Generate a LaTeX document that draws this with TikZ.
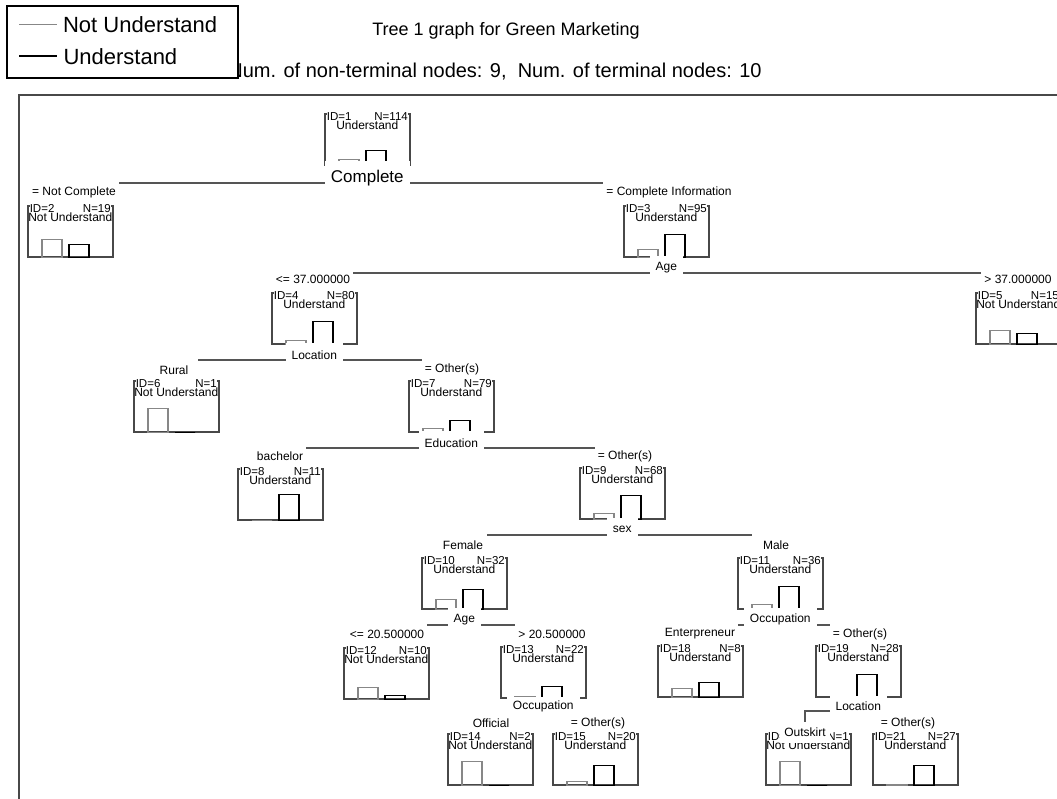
\documentclass[tikz,border=0pt]{standalone}
\usepackage{fontspec}
\setmainfont{Liberation Sans}
\usepackage{xcolor}
\usepackage{tikz}
\usetikzlibrary{positioning, backgrounds}
\definecolor{treeDark}{RGB}{72,72,72}
\definecolor{treeGray}{RGB}{135,135,135}
\definecolor{treeLine}{RGB}{85,85,85}
\newcommand{\fsz}[1]{\fontsize{#1}{#1}\selectfont}
% one tree node: name, left, top, id, n, class, gray bar, black bar
\newcommand{\treenode}[8]{%
  \node[treebox, anchor=north west] (#1) at (#2,#3) {};
  \draw[notbar] ([xshift=15pt]#1.south west) rectangle ++(20,-#7);
  \draw[yesbar] ([xshift=42pt]#1.south west) rectangle ++(20,-#8);
  \node[idtext, anchor=north] (#1id) at ([yshift=1pt]#1.north) {ID=#4\hfill N=#5};
  \node[classlbl] (#1cl) at ([yshift=-12pt]#1.north) {#6};
}

\begin{document}
\begin{tikzpicture}[x=1pt, y=-1pt,
    treebox/.style={draw=treeDark, line width=1.6pt, minimum width=85pt,
    minimum height=51pt, inner sep=0pt},
    notbar/.style={draw=treeGray, line width=1.6pt},
    yesbar/.style={draw=black, line width=1.6pt},
    idtext/.style={fill=white, inner sep=0pt, text width=81pt, font=\fsz{11.5}},
    classlbl/.style={inner sep=0pt, font=\fsz{12}},
    splitlbl/.style={fill=white, inner xsep=6pt, inner ysep=0pt,
    minimum height=24pt, font=\fsz{12}},
    branchlbl/.style={fill=white, inner xsep=3pt, inner ysep=0pt,
    minimum width=48pt, minimum height=30pt, font=\fsz{12}},
    link/.style={draw=treeLine, line width=1.6pt}
]
\useasboundingbox (0,0) rectangle (1057,799);
\clip (0,0) rectangle (1057,799);

% Title
\node[font=\fsz{18}] (title) at (506,31) {Tree 1 graph for Green Marketing};
\node[font=\fsz{20}] (subtitle) at (495,72) {Num. of non-terminal nodes: 9,\ \ Num. of terminal nodes: 10};
% Legend
\node[draw=black, line width=1.2pt, fill=white, minimum width=231pt,
    minimum height=72pt] (legend) at (122.5,42) {};
\draw[treeGray, line width=1.4pt] ([xshift=13pt, yshift=-19pt]legend.north west)
    -- ++(38,0) node[right, text=black, inner xsep=5pt, font=\fsz{22}] (leg1) {Not Understand};
\draw[black, line width=2.2pt] ([xshift=13pt, yshift=-51pt]legend.north west)
    -- ++(38,0) node[right, inner xsep=5pt, font=\fsz{22}] (leg2) {Understand};
% Frame
\draw[treeDark, line width=1.6pt] (19,95) rectangle (1120,860);

% Branch labels
\node[branchlbl] (b2) at (74,192) {= Not Complete};
\node[branchlbl] (b3) at (669,192) {= Complete Information};
\node[branchlbl] (b4) at (313,279) {<= 37.000000};
\node[branchlbl] (b5) at (1018,279) {> 37.000000};
\node[branchlbl] (b6) at (174,370) {Rural};
\node[branchlbl] (b7) at (452,369) {= Other(s)};
\node[branchlbl] (b8) at (280,456) {bachelor};
\node[branchlbl] (b9) at (625,456) {= Other(s)};
\node[branchlbl] (b10) at (463,545) {Female};
\node[branchlbl] (b11) at (776,545) {Male};
\node[branchlbl] (b12) at (387,634) {<= 20.500000};
\node[branchlbl] (b13) at (552,634) {> 20.500000};
\node[branchlbl] (b14) at (491,723) {Official};
\node[branchlbl] (b15) at (598,723) {= Other(s)};
\node[branchlbl] (b18) at (700,634) {Enterpreneur};
\node[branchlbl] (b19) at (860,634) {= Other(s)};
\node[branchlbl] (b21) at (908,723) {= Other(s)};

% Tree nodes
\treenode{n1}{324}{113}{1}{114}{Understand}{6}{15}
\treenode{n2}{27}{205}{2}{19}{Not Understand}{18}{13}
\treenode{n3}{623}{205}{3}{95}{Understand}{8}{23}
\treenode{n4}{271}{292}{4}{80}{Understand}{4}{23}
\treenode{n5}{975}{292}{5}{15}{Not Understand}{14}{11}
\treenode{n6}{133}{380}{6}{1}{Not Understand}{24}{0}
\treenode{n7}{408}{380}{7}{79}{Understand}{4}{12}
\treenode{n8}{237}{468}{8}{11}{Understand}{0}{26}
\treenode{n9}{579}{467}{9}{68}{Understand}{6}{24}
\treenode{n10}{421}{557}{10}{32}{Understand}{10}{20}
\treenode{n11}{737}{557}{11}{36}{Understand}{5}{23}
\treenode{n12}{343}{647}{12}{10}{Not Understand}{12}{4}
\treenode{n13}{500}{646}{13}{22}{Understand}{2}{12}
\treenode{n14}{447}{733}{14}{2}{Not Understand}{24}{0}
\treenode{n15}{552}{733}{15}{20}{Understand}{4}{20}
\treenode{n18}{657}{645}{18}{8}{Understand}{9}{15}
\treenode{n19}{815}{645}{19}{28}{Understand}{0}{23}
\treenode{n20}{765}{733}{20}{1}{Not Understand}{24}{0}
\treenode{n21}{872}{733}{21}{27}{Understand}{1}{20}

% Split labels
\node[splitlbl, font=\fsz{17}, minimum height=34pt, below=-5pt of n1] (s1) {Complete};
\node[splitlbl, below=-2pt of n3] (s3) {Age};
\node[splitlbl, below=-2pt of n4] (s4) {Location};
\node[splitlbl, below=-2pt of n7] (s7) {Education};
\node[splitlbl, below=-2pt of n9] (s9) {sex};
\node[splitlbl, below=-2pt of n10] (s10) {Age};
\node[splitlbl, below=-2pt of n11] (s11) {Occupation};
\node[splitlbl, minimum height=20pt, below=-2pt of n13] (s13) {Occupation};
\node[splitlbl, minimum height=20pt, below=-2pt of n19] (s19) {Location};
\node[branchlbl, minimum width=0pt, minimum height=21pt, inner xsep=4pt] (b20) at (805,732.5) {Outskirt};

% Connectors
\begin{scope}[on background layer]
\draw[link] ([yshift=-5pt]s1.center) -| (b2);
\draw[link] ([yshift=-5pt]s1.center) -| (b3);
\draw[link] ([yshift=-5pt]s3.center) -| (b4);
\draw[link] ([yshift=-5pt]s3.center) -| (b5);
\draw[link] ([yshift=-5pt]s4.center) -| (b6);
\draw[link] ([yshift=-5pt]s4.center) -| (b7);
\draw[link] ([yshift=-5pt]s7.center) -| (b8);
\draw[link] ([yshift=-5pt]s7.center) -| (b9);
\draw[link] ([yshift=-5pt]s9.center) -| (b10);
\draw[link] ([yshift=-5pt]s9.center) -| (b11);
\draw[link] ([yshift=-5pt]s10.center) -| (b12);
\draw[link] ([yshift=-5pt]s10.center) -| (b13);
\draw[link] ([yshift=-5pt]s11.center) -| (b18);
\draw[link] ([yshift=-5pt]s11.center) -| (b19);
\draw[link] ([yshift=-5pt]s13.center) -| (b14);
\draw[link] ([yshift=-5pt]s13.center) -| (b15);
\draw[link] ([yshift=-5pt]s19.center) -| (b20);
\draw[link] ([yshift=-5pt]s19.center) -| (b21);
\end{scope}
\end{tikzpicture}
\end{document}
